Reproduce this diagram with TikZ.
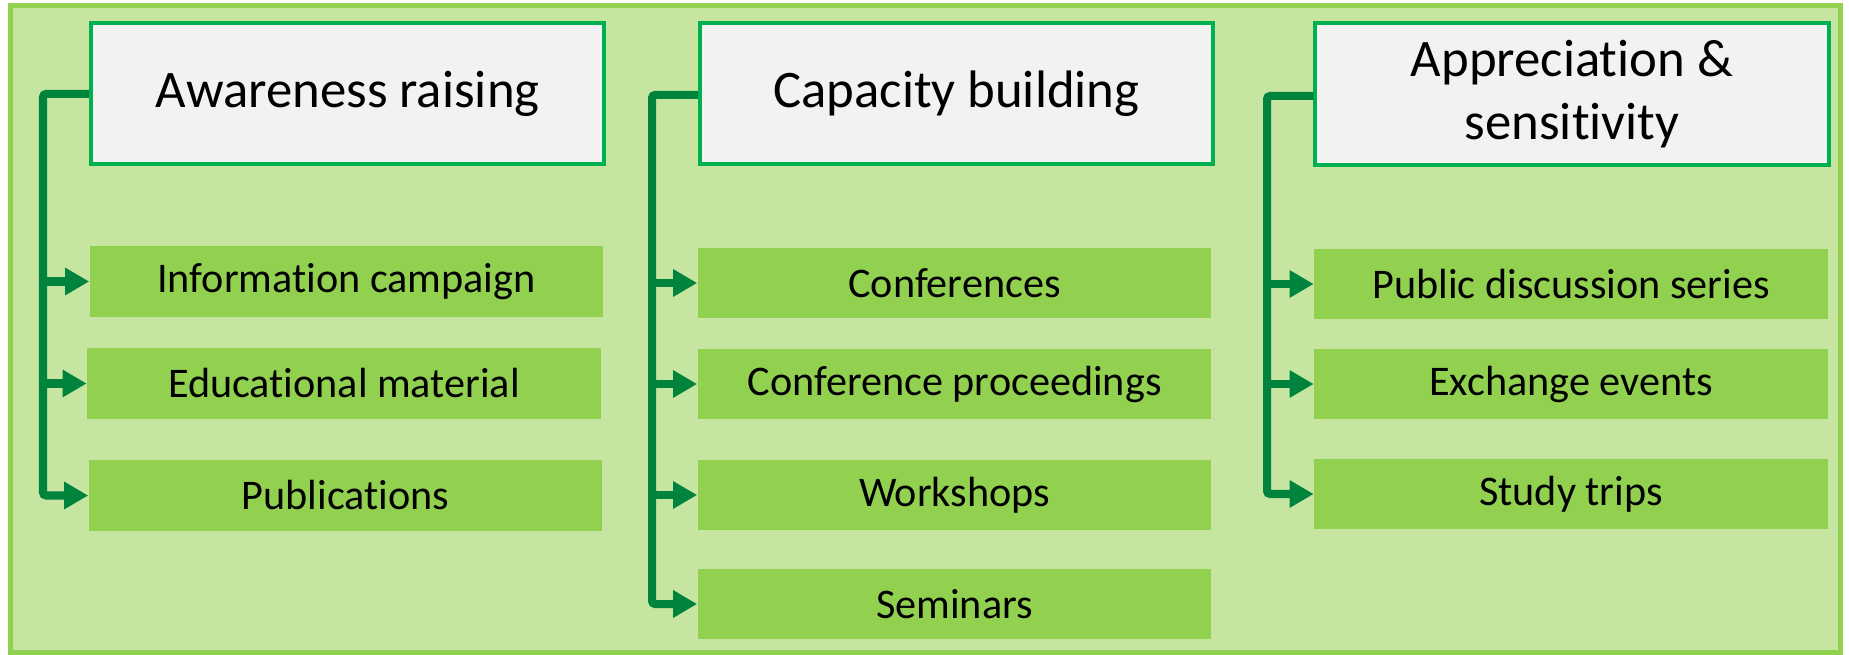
\documentclass[tikz,border=0pt]{standalone}
\usepackage{fontspec}
\setmainfont{Carlito}[Ligatures=NoCommon]
\usetikzlibrary{arrows.meta}

\definecolor{framefill}{RGB}{197,229,160}
\definecolor{frameline}{RGB}{146,208,80}
\definecolor{itemfill}{RGB}{146,208,80}
\definecolor{headline}{RGB}{0,176,80}
\definecolor{headfill}{RGB}{242,242,242}
\definecolor{linkgreen}{RGB}{0,132,61}

\begin{document}
\begin{tikzpicture}[x=0.01cm, y=-0.01cm,
        head/.style={draw=headline, line width=0.04cm, fill=headfill, minimum width=5.13cm, minimum height=1.41cm, inner sep=0pt, align=center, font=\fontsize{15}{18}\selectfont},
        item/.style={fill=itemfill, minimum width=5.13cm, minimum height=0.70cm, inner sep=0pt, font=\fontsize{12}{14}\selectfont},
        link/.style={draw=linkgreen, line width=0.08cm, rounded corners=0.03cm, -{Triangle[length=0.24cm, width=0.26cm]}}]
        \useasboundingbox (0, 0) rectangle (1849, 655);
        \draw [draw=frameline, fill=framefill, line width=0.05cm] (10.5, 5.5) rectangle (1840.5, 652.5);

        \node [head] (aware) at (347.5, 93.5) {Awareness raising};
        \node [item] (campaign) at (346.5, 281.5) {Information campaign};
        \node [item] (material) at (344, 383.5) {Educational material};
        \node [item] (publications) at (345.5, 495.5) {Publications};

        \node [head] (capacity) at (956.5, 93.5) {Capacity building};
        \node [item] (conferences) at (954.5, 283) {Conferences};
        \node [item] (proceedings) at (954.5, 384) {Conference proceedings};
        \node [item] (workshops) at (954.5, 495) {Workshops};
        \node [item] (seminars) at (954.5, 604) {Seminars};

        \node [head] (appreciation) at (1572, 94) {Appreciation \&\\sensitivity};
        \node [item] (discussion) at (1571, 284) {Public discussion series};
        \node [item] (exchange) at (1571, 384) {Exchange events};
        \node [item] (trips) at (1571, 494) {Study trips};

        \coordinate (spineA) at (43, 94);
        \coordinate (spineB) at (652, 95);
        \coordinate (spineC) at (1267, 96);

        \draw [link] (aware.west |- spineA) -- (spineA) |- (publications.west);
        \draw [link] (spineA |- campaign.west) -- (campaign.west);
        \draw [link] (spineA |- material.west) -- (material.west);

        \draw [link] (capacity.west |- spineB) -- (spineB) |- (seminars.west);
        \draw [link] (spineB |- conferences.west) -- (conferences.west);
        \draw [link] (spineB |- proceedings.west) -- (proceedings.west);
        \draw [link] (spineB |- workshops.west) -- (workshops.west);

        \draw [link] (appreciation.west |- spineC) -- (spineC) |- (trips.west);
        \draw [link] (spineC |- discussion.west) -- (discussion.west);
        \draw [link] (spineC |- exchange.west) -- (exchange.west);
    \end{tikzpicture}
\end{document}
